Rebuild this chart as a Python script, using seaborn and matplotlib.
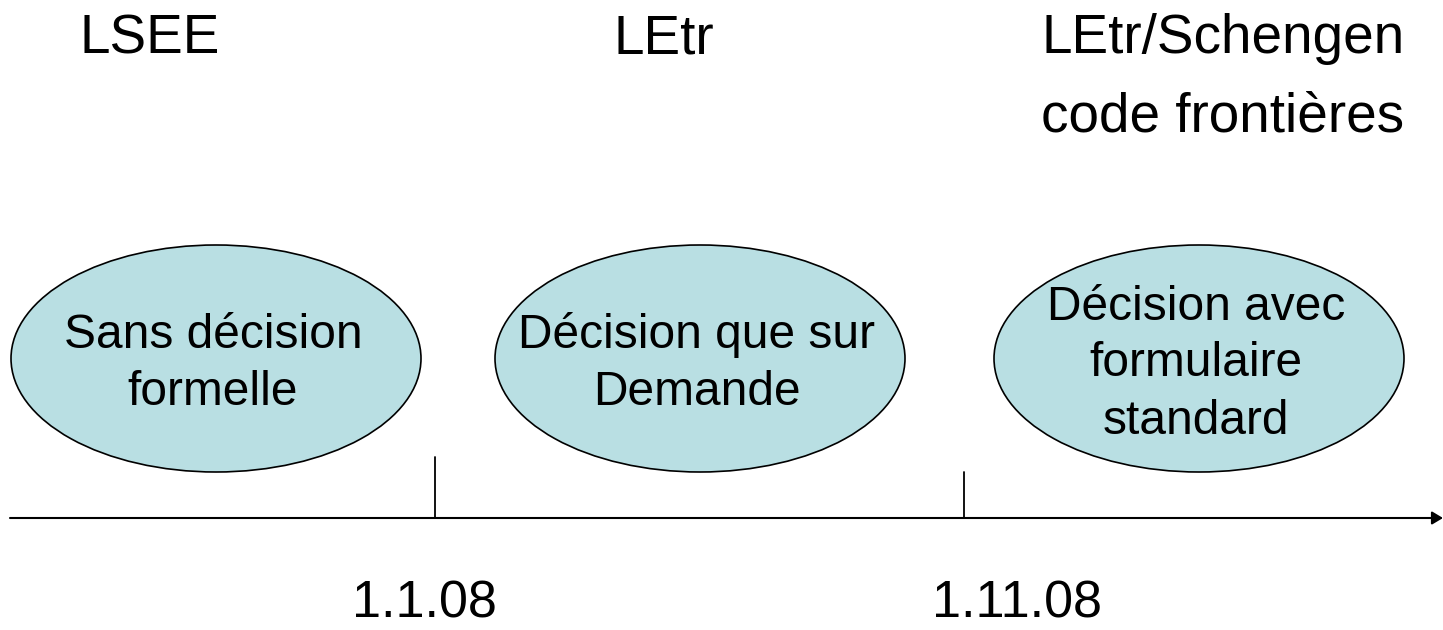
import matplotlib
matplotlib.use("Agg")
import matplotlib.pyplot as plt
from matplotlib.patches import Ellipse
import seaborn as sns

# Données de la frise chronologique
periodes = ["LSEE", "LEtr", "LEtr/Schengen\ncode frontières"]
descriptions = ["Sans décision\nformelle",
                "Décision que sur\nDemande",
                "Décision avec\nformulaire\nstandard"]
dates = ["1.1.08", "1.11.08"]

# Mise en page (coordonnées en pixels de la figure)
W, H = 1443, 630
centres_x = [216, 700, 1199]
centre_y = 358.5
largeur_ell, hauteur_ell = 410, 227
titres_x = [150, 664, 1041]
titres_ha = ["center", "center", "left"]
ticks_x = [435, 964]
ticks_haut = [457, 472]
dates_x = [424, 1017]
axe_y = 518

sns.set_theme(style="white")
plt.rcParams["font.family"] = ["Liberation Sans", "DejaVu Sans"]

fig = plt.figure(figsize=(W / 100, H / 100), dpi=100)
ax = fig.add_axes([0, 0, 1, 1])
ax.set_xlim(0, W)
ax.set_ylim(H, 0)
ax.axis("off")

# Titres des périodes
for x, ha, titre in zip(titres_x, titres_ha, periodes):
    for k, ligne in enumerate(titre.split("\n")):
        ax.text(x, 53 + k * 79, ligne, ha=ha, va="baseline", fontsize=39.5, color="black")

# Ellipses avec descriptions
for cx, desc in zip(centres_x, descriptions):
    ax.add_patch(Ellipse((cx, centre_y), largeur_ell, hauteur_ell,
                         facecolor="#B9DFE3", edgecolor="black", lw=1.2))
    lignes = desc.split("\n")
    n = len(lignes)
    for k, ligne in enumerate(lignes):
        y = centre_y + 18 + (k - (n - 1) / 2) * 57
        ax.text(cx - 3, y, ligne, ha="center", va="baseline", fontsize=34.5, color="black")

# Axe du temps
ax.annotate("", xy=(W, axe_y), xytext=(10, axe_y),
            arrowprops=dict(arrowstyle="-|>,head_length=0.5,head_width=0.3",
                            lw=1.5, color="black", mutation_scale=13,
                            shrinkA=0, shrinkB=0))
for tx, th in zip(ticks_x, ticks_haut):
    ax.plot([tx, tx], [th, axe_y], color="black", lw=1.3)

# Dates
for dx, d in zip(dates_x, dates):
    ax.text(dx, 618, d, ha="center", va="baseline", fontsize=37.5, color="black")

fig.savefig("out.png", dpi=100)
